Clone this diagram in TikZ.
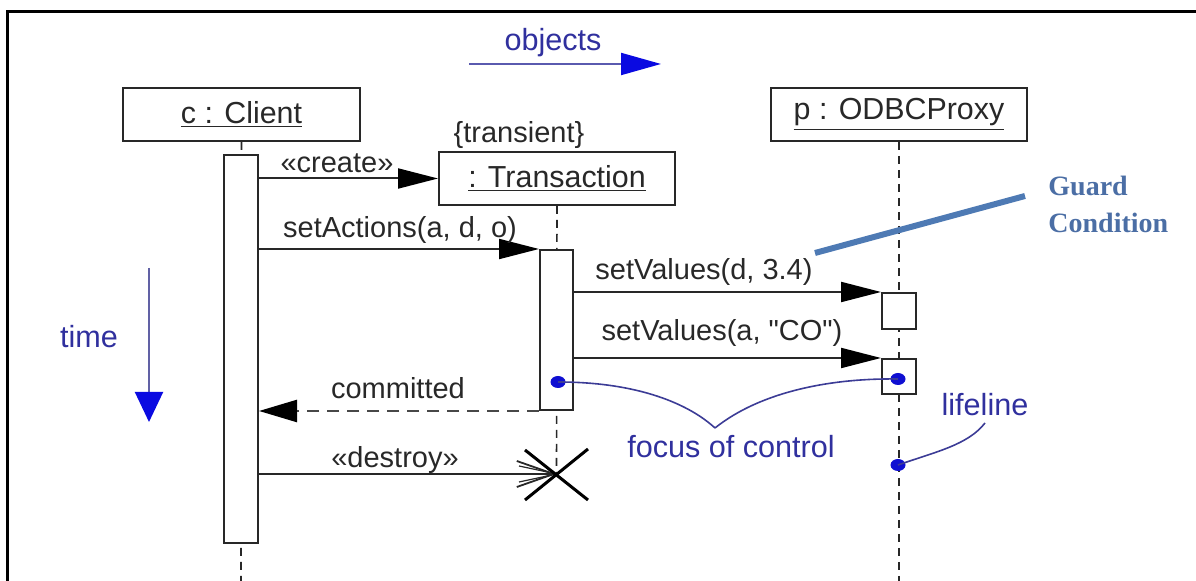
\documentclass[tikz,border=0pt]{standalone}
\usepackage{fontspec}
\setmainfont{Liberation Sans}[Ligatures=TeXOff]
\newfontfamily\guardfont{Liberation Serif}
\usetikzlibrary{arrows.meta}
\definecolor{txtblue}{RGB}{48,48,158}
\definecolor{tipblue}{RGB}{10,10,225}
\definecolor{lnblue}{RGB}{90,90,175}
\definecolor{curveblue}{RGB}{60,60,150}
\definecolor{dotblue}{RGB}{15,15,210}
\definecolor{steel}{RGB}{78,122,180}
\definecolor{steeltxt}{RGB}{75,110,165}
\definecolor{ink}{RGB}{40,40,40}
\tikzset{
  lbl/.style={font=\fontsize{14.5}{17}\selectfont, text=ink, inner sep=0pt},
  bluelbl/.style={font=\fontsize{15.3}{18}\selectfont, text=txtblue, inner sep=0pt},
  objbox/.style={draw=ink, line width=1pt, fill=white, minimum height=26.5pt, inner sep=0pt, font=\fontsize{15.2}{17}\selectfont, text=ink},
  actbar/.style={draw=ink, line width=1pt, fill=white, inner sep=0pt, minimum width=17pt},
  lifeln/.style={draw=ink, line width=0.8pt, dash pattern=on 4pt off 3pt},
  msg/.style={draw=ink, line width=1pt, -{Triangle[length=20pt,width=10pt,color=black]}},
  retmsg/.style={draw=ink!85, line width=1.2pt, dash pattern=on 6pt off 4pt, -{Triangle[length=19pt,width=11pt,color=black]}},
  fdot/.style={fill=dotblue, draw=none, ellipse, inner sep=0pt, minimum width=7.5pt, minimum height=6pt},
  blcurve/.style={draw=curveblue, line width=0.8pt},
}
\usetikzlibrary{shapes.geometric}
\begin{document}
\begin{tikzpicture}[x=0.5pt,y=-0.5pt]
\useasboundingbox (0,0) rectangle (1196,581);
% frame
\draw[black, line width=1.5pt] (7,581) -- (7,12) -- (1196,12);

% axes labels
\node[bluelbl] (objlbl) at (553,43) {objects};
\coordinate (objA) at (469,64);
\coordinate (objB) at (661,64);
\draw[lnblue, line width=1pt, -{Triangle[length=20pt,width=11pt,color=tipblue]}] (objA) -- (objB);
\node[bluelbl] (timelbl) at (89,337) {time};
\coordinate (timeA) at (149,268);
\coordinate (timeB) at (149,422);
\draw[lnblue!80!gray, line width=1pt, -{Triangle[length=15pt,width=14pt,color=tipblue]}] (timeA) -- (timeB);

% lifeline ends
\coordinate (cend) at (241,581);
\coordinate (pend) at (899,581);
\coordinate (xmark) at (556.5,474);

% objects
\node[objbox, minimum width=118.5pt] (client) at (241.5,114.5) {\underline{c : Client}};
\node[objbox, minimum width=118pt] (trans) at (557,178.5) {\underline{: Transaction}};
\node[objbox, minimum width=128pt] (proxy) at (899,114.5) {\underline{p : ODBCProxy}};
\node[lbl, anchor=center] (transient) at (519,135) {\{transient\}};

% lifelines
\draw[lifeln] (client.south) -- (cend);
\draw[lifeln] (trans.south) -- (xmark);
\draw[lifeln] (proxy.south) -- (pend);

% activation bars
\node[actbar, minimum height=194pt] (cbar) at (241,349) {};
\node[actbar, minimum width=16.5pt, minimum height=80pt] (tbar) at (556.5,330) {};
\node[actbar, minimum height=18pt] (p1) at (899,311) {};
\node[actbar, minimum height=17.5pt] (p2) at (899,376.5) {};

% messages
\draw[msg] (cbar.east |- trans.west) -- (trans.west);
\node[lbl] (createlbl) at (337,163) {«create»};
\draw[msg] (cbar.east |- tbar.north west) -- (tbar.north west);
\node[lbl] (setact) at (400,230) {setActions(a, d, o)};
\draw[msg] (tbar.east |- p1.north west) -- (p1.north west);
\node[lbl] (setv1) at (704,272) {setValues(d, 3.4)};
\draw[msg] (tbar.east |- p2.north west) -- (p2.north west);
\node[lbl] (setv2) at (722,333) {setValues(a, "CO")};
\draw[retmsg] (tbar.south west) -- (cbar.east |- tbar.south west);
\node[lbl] (commit) at (398,388) {committed};
\draw[ink, line width=0.9pt, -{Straight Barb[length=18.5pt,width=13pt]}] (cbar.east |- xmark) -- (xmark);
\draw[ink, line width=0.6pt] (519,466) -- (xmark) -- (519,482);
\node[lbl] (destroy) at (395,460) {«destroy»};
% destruction X
\draw[black, line width=1.5pt] (525,450) -- (588,500);
\draw[black, line width=1.5pt] (525,500) -- (588,449);

% focus of control annotation
\node[fdot] (d1) at (558,382) {};
\node[fdot] (d2) at (898,379) {};
\node[fdot] (d3) at (898,465) {};
\coordinate (apex) at (715,428);
\draw[blcurve] (d1.center) .. controls (640,382) and (690,405) .. (apex);
\draw[blcurve] (apex) .. controls (760,392) and (830,378) .. (d2.center);
\node[bluelbl] (focus) at (731,447) {focus of control};
\node[bluelbl] (lifelbl) at (985,405) {lifeline};
\coordinate (lifeA) at (985,423);
\draw[blcurve] (lifeA) .. controls (968,445) and (935,452) .. (d3.center);

% guard condition
\coordinate (gA) at (815,253);
\coordinate (gB) at (1025,196);
\draw[steel, line width=3pt] (gA) -- (gB);
\node[font=\guardfont\bfseries\fontsize{14}{18.5}\selectfont, text=steeltxt, align=left, anchor=west, inner sep=0pt] (guard) at (1048,204) {Guard\\Condition};
\end{tikzpicture}
\end{document}
